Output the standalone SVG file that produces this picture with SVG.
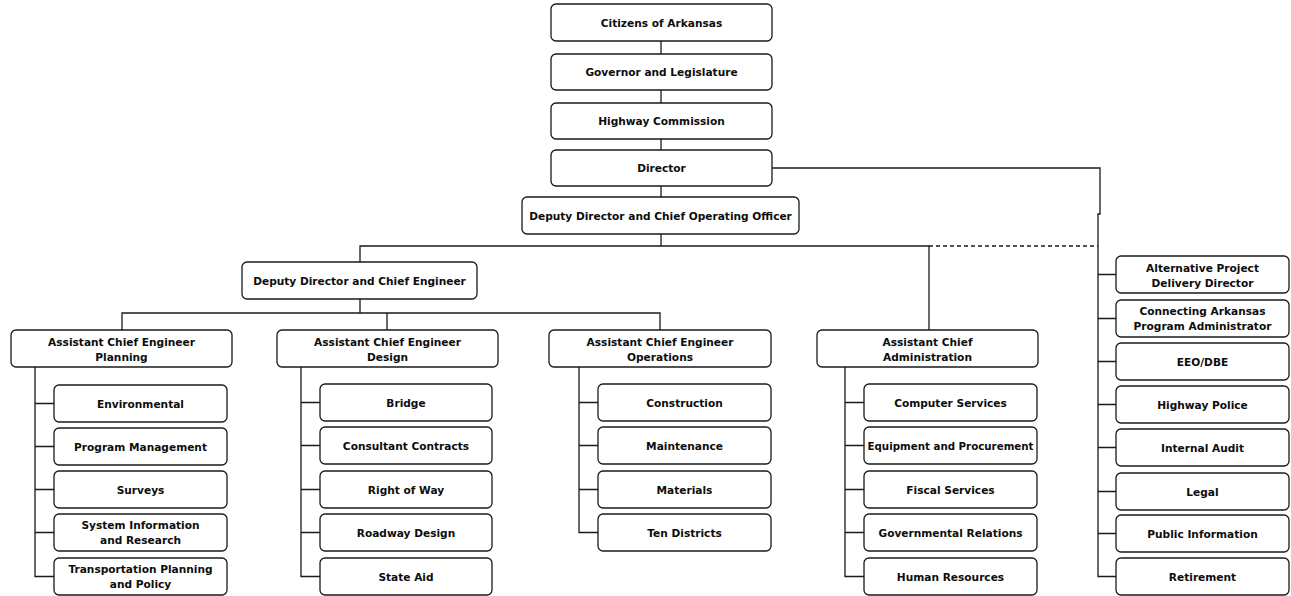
<svg xmlns="http://www.w3.org/2000/svg" width="1291" height="596" viewBox="0 0 1291 596">
<style>
.box{fill:#fff;stroke:#1a1a1a;stroke-width:1.3}
.t{font-family:"DejaVu Sans",Verdana,sans-serif;font-weight:bold;font-size:10.6px;text-anchor:middle;fill:#0d0d0d}
.ln{fill:none;stroke:#1a1a1a;stroke-width:1.3}
.dash{fill:none;stroke:#1a1a1a;stroke-width:1.3;stroke-dasharray:4 3}
</style>
<rect width="1291" height="596" fill="#fff"/>
<g id="connectors">
<path class="ln" d="M661,41V54M661,90V103M661,139V150M661,186V197M661,234V246"/>
<path class="ln" d="M360,262V246H929V330"/>
<path class="dash" d="M929,246H1098"/>
<path class="ln" d="M360,299V313M122,330V313H660V330M387,313V330"/>
<path class="ln" d="M35,367V576.5H54M35,403.5H54M35,446.5H54M35,489.5H54M35,532.5H54"/>
<path class="ln" d="M301,367V576.5H320M301,402.5H320M301,445.5H320M301,489.5H320M301,532.5H320"/>
<path class="ln" d="M579,367V532.5H598M579,402.5H598M579,445.5H598M579,489.5H598"/>
<path class="ln" d="M845,367V576.5H864M845,402.5H864M845,445.5H864M845,489.5H864M845,532.5H864"/>
<path class="ln" d="M772,168H1100V214H1098V576.5H1116M1098,274.5H1116M1098,318.5H1116M1098,361.5H1116M1098,404.5H1116M1098,447.5H1116M1098,491.5H1116M1098,533.5H1116"/>
</g>
<g id="n-citizens"><rect class="box" x="551" y="4" width="221" height="37" rx="5"/><text class="t" x="661.5" y="26.5">Citizens of Arkansas</text></g>
<g id="n-governor"><rect class="box" x="551" y="54" width="221" height="36" rx="5"/><text class="t" x="661.5" y="76">Governor and Legislature</text></g>
<g id="n-commission"><rect class="box" x="551" y="103" width="221" height="36" rx="5"/><text class="t" x="661.5" y="125">Highway Commission</text></g>
<g id="n-director"><rect class="box" x="551" y="150" width="221" height="36" rx="5"/><text class="t" x="661.5" y="172">Director</text></g>
<g id="n-coo"><rect class="box" x="522" y="197" width="277" height="37" rx="5"/><text class="t" x="660.5" y="219.5">Deputy Director and Chief Operating Officer</text></g>
<g id="n-ddce"><rect class="box" x="242" y="262" width="235" height="37" rx="5"/><text class="t" x="359.5" y="284.5">Deputy Director and Chief Engineer</text></g>
<g id="n-planning"><rect class="box" x="11" y="330" width="221" height="37" rx="5"/><text class="t" x="121.5" y="346">Assistant Chief Engineer</text><text class="t" x="121.5" y="361">Planning</text></g>
<g id="n-design"><rect class="box" x="277" y="330" width="221" height="37" rx="5"/><text class="t" x="387.5" y="346">Assistant Chief Engineer</text><text class="t" x="387.5" y="361">Design</text></g>
<g id="n-operations"><rect class="box" x="549" y="330" width="222" height="37" rx="5"/><text class="t" x="660" y="346">Assistant Chief Engineer</text><text class="t" x="660" y="361">Operations</text></g>
<g id="n-admin"><rect class="box" x="817" y="330" width="221" height="37" rx="5"/><text class="t" x="927.5" y="346">Assistant Chief</text><text class="t" x="927.5" y="361">Administration</text></g>
<g id="n-environmental"><rect class="box" x="54" y="385" width="173" height="37" rx="5"/><text class="t" x="140.5" y="407.5">Environmental</text></g>
<g id="n-progmgmt"><rect class="box" x="54" y="428" width="173" height="37" rx="5"/><text class="t" x="140.5" y="450.5">Program Management</text></g>
<g id="n-surveys"><rect class="box" x="54" y="471" width="173" height="37" rx="5"/><text class="t" x="140.5" y="493.5">Surveys</text></g>
<g id="n-sysinfo"><rect class="box" x="54" y="514" width="173" height="37" rx="5"/><text class="t" x="140.5" y="529">System Information</text><text class="t" x="140.5" y="544">and Research</text></g>
<g id="n-transport"><rect class="box" x="54" y="558" width="173" height="37" rx="5"/><text class="t" x="140.5" y="573">Transportation Planning</text><text class="t" x="140.5" y="588">and Policy</text></g>
<g id="n-bridge"><rect class="box" x="320" y="384" width="172" height="37" rx="5"/><text class="t" x="406" y="406.5">Bridge</text></g>
<g id="n-consultant"><rect class="box" x="320" y="427" width="172" height="37" rx="5"/><text class="t" x="406" y="449.5">Consultant Contracts</text></g>
<g id="n-row"><rect class="box" x="320" y="471" width="172" height="37" rx="5"/><text class="t" x="406" y="493.5">Right of Way</text></g>
<g id="n-roadway"><rect class="box" x="320" y="514" width="172" height="37" rx="5"/><text class="t" x="406" y="536.5">Roadway Design</text></g>
<g id="n-stateaid"><rect class="box" x="320" y="558" width="172" height="37" rx="5"/><text class="t" x="406" y="580.5">State Aid</text></g>
<g id="n-construction"><rect class="box" x="598" y="384" width="173" height="37" rx="5"/><text class="t" x="684.5" y="406.5">Construction</text></g>
<g id="n-maintenance"><rect class="box" x="598" y="427" width="173" height="37" rx="5"/><text class="t" x="684.5" y="449.5">Maintenance</text></g>
<g id="n-materials"><rect class="box" x="598" y="471" width="173" height="37" rx="5"/><text class="t" x="684.5" y="493.5">Materials</text></g>
<g id="n-districts"><rect class="box" x="598" y="514" width="173" height="37" rx="5"/><text class="t" x="684.5" y="536.5">Ten Districts</text></g>
<g id="n-computer"><rect class="box" x="864" y="384" width="173" height="37" rx="5"/><text class="t" x="950.5" y="406.5">Computer Services</text></g>
<g id="n-equipment"><rect class="box" x="864" y="427" width="173" height="37" rx="5"/><text class="t" x="950.5" y="449.5" textLength="166" lengthAdjust="spacingAndGlyphs">Equipment and Procurement</text></g>
<g id="n-fiscal"><rect class="box" x="864" y="471" width="173" height="37" rx="5"/><text class="t" x="950.5" y="493.5">Fiscal Services</text></g>
<g id="n-govrel"><rect class="box" x="864" y="514" width="173" height="37" rx="5"/><text class="t" x="950.5" y="536.5">Governmental Relations</text></g>
<g id="n-hr"><rect class="box" x="864" y="558" width="173" height="37" rx="5"/><text class="t" x="950.5" y="580.5">Human Resources</text></g>
<g id="n-altproject"><rect class="box" x="1116" y="256" width="173" height="37" rx="5"/><text class="t" x="1202.5" y="271.5">Alternative Project</text><text class="t" x="1202.5" y="286.5">Delivery Director</text></g>
<g id="n-connecting"><rect class="box" x="1116" y="300" width="173" height="37" rx="5"/><text class="t" x="1202.5" y="314.5">Connecting Arkansas</text><text class="t" x="1202.5" y="329.5">Program Administrator</text></g>
<g id="n-eeo"><rect class="box" x="1116" y="343" width="173" height="37" rx="5"/><text class="t" x="1202.5" y="365.5">EEO/DBE</text></g>
<g id="n-police"><rect class="box" x="1116" y="386" width="173" height="37" rx="5"/><text class="t" x="1202.5" y="408.5">Highway Police</text></g>
<g id="n-audit"><rect class="box" x="1116" y="429" width="173" height="37" rx="5"/><text class="t" x="1202.5" y="451.5">Internal Audit</text></g>
<g id="n-legal"><rect class="box" x="1116" y="473" width="173" height="37" rx="5"/><text class="t" x="1202.5" y="495.5">Legal</text></g>
<g id="n-publicinfo"><rect class="box" x="1116" y="515" width="173" height="37" rx="5"/><text class="t" x="1202.5" y="537.5">Public Information</text></g>
<g id="n-retirement"><rect class="box" x="1116" y="558" width="173" height="37" rx="5"/><text class="t" x="1202.5" y="580.5">Retirement</text></g>
</svg>
